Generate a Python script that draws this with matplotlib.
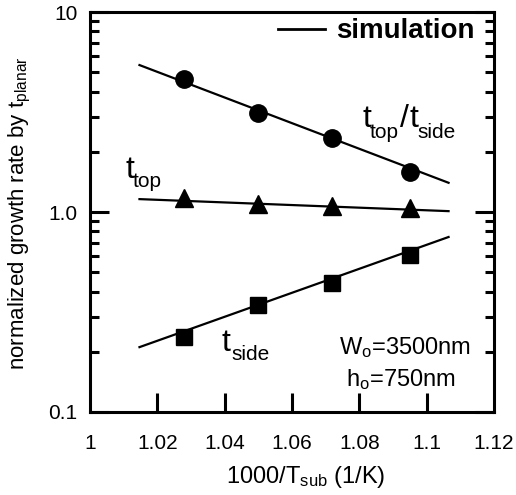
import numpy as np
import matplotlib
matplotlib.use("Agg")
import matplotlib.pyplot as plt
from matplotlib.ticker import FixedLocator, FixedFormatter, LogLocator, NullFormatter
from matplotlib.lines import Line2D

plt.rcParams['font.family'] = ['Liberation Sans', 'DejaVu Sans']

# measured points, 1000/Tsub
x_meas = [1.028, 1.050, 1.072, 1.095]
ratio_meas = [4.62, 3.13, 2.34, 1.58]   # t_top / t_side
top_meas = [1.18, 1.10, 1.07, 1.05]     # t_top
side_meas = [0.237, 0.343, 0.44, 0.61]  # t_side

# simulation lines (end points)
x_sim = [1.0147, 1.1065]
ratio_sim = [5.43, 1.40]
top_sim = [1.16, 1.01]
side_sim = [0.211, 0.75]

xticks = [1, 1.02, 1.04, 1.06, 1.08, 1.1, 1.12]
xticklabels = ['1', '1.02', '1.04', '1.06', '1.08', '1.1', '1.12']
yticks = [0.1, 1.0, 10]
yticklabels = ['0.1', '1.0', '10']

fig = plt.figure(figsize=(5.16, 4.95), dpi=100)
ax = fig.add_axes([0.1744, 0.1677, 0.783, 0.808])

lw = 1.6
ax.plot(x_sim, ratio_sim, color='black', lw=lw)
ax.plot(x_sim, top_sim, color='black', lw=lw)
ax.plot(x_sim, side_sim, color='black', lw=lw)
ax.plot(x_meas, ratio_meas, 'o', color='black', ms=12.5, ls='none')
ax.plot(x_meas, top_meas, '^', color='black', ms=12.5, ls='none')
ax.plot(x_meas, side_meas, 's', color='black', ms=12, ls='none')

ax.set_yscale('log')
ax.set_xlim(1, 1.12)
ax.set_ylim(0.1, 10)

ax.xaxis.set_major_locator(FixedLocator(xticks))
ax.xaxis.set_major_formatter(FixedFormatter(xticklabels))
ax.yaxis.set_major_locator(FixedLocator(yticks))
ax.yaxis.set_major_formatter(FixedFormatter(yticklabels))
ax.yaxis.set_minor_locator(LogLocator(base=10, subs=np.arange(2, 10)))
ax.yaxis.set_minor_formatter(NullFormatter())

for s in ax.spines.values():
    s.set_linewidth(2.2)

ax.tick_params(axis='x', which='major', direction='in', length=13.5, width=2.2,
               top=False, bottom=True, labelsize=15, pad=16)
ax.tick_params(axis='y', which='major', direction='in', length=13.5, width=2.2,
               left=True, right=True, labelsize=15, pad=9)
ax.tick_params(axis='y', which='minor', direction='in', length=6.5, width=2.2,
               left=True, right=True)
# no tick marks at the x ends
for t in (ax.xaxis.get_major_ticks()[0], ax.xaxis.get_major_ticks()[-1]):
    t.tick1line.set_visible(False)

ax.set_xlabel(r'1000/T$\mathregular{_{sub}}$ (1/K)', fontsize=17)
ax.xaxis.set_label_coords(0.535, -0.13)
ax.set_ylabel(r'normalized growth rate by $\mathregular{t_{planar}}$', fontsize=16)
ax.yaxis.set_label_coords(-0.14, 0.496)


def label(x, y, parts):
    # parts: (text, dx px, dy px, size) placed from a baseline anchor
    for txt, dx, dy, size in parts:
        ax.annotate(txt, xy=(x, y), xytext=(dx * 0.72, dy * 0.72),
                    textcoords='offset points', fontsize=size,
                    ha='left', va='baseline')


big, small = 23, 15
label(1.0808, 2.66, [('t', 0, 0, big), ('top', 8, -11, small),
                     ('/', 38, 0, big), ('t', 47, 0, big), ('side', 55, -11, small)])
label(1.0104, 1.48, [('t', 0, 0, big), ('top', 8, -9, small)])
label(1.0392, 0.202, [('t', 0, 0, big), ('side', 9, -9, small)])

ax.text(1.1132, 0.211, r'$\mathregular{W_o}$=3500nm', fontsize=17, va='center', ha='right')
ax.text(1.0923, 0.145, r'$\mathregular{h_o}$=750nm', fontsize=17, va='center', ha='center')

handle = Line2D([], [], color='black', lw=2)
ax.legend([handle], ['simulation'], loc='center right', bbox_to_anchor=(0.953, 0.952),
          frameon=False, prop={'weight': 'bold', 'size': 20}, handlelength=1.7,
          borderpad=0, borderaxespad=0, handletextpad=0.4)

fig.savefig('out.png', dpi=100)
